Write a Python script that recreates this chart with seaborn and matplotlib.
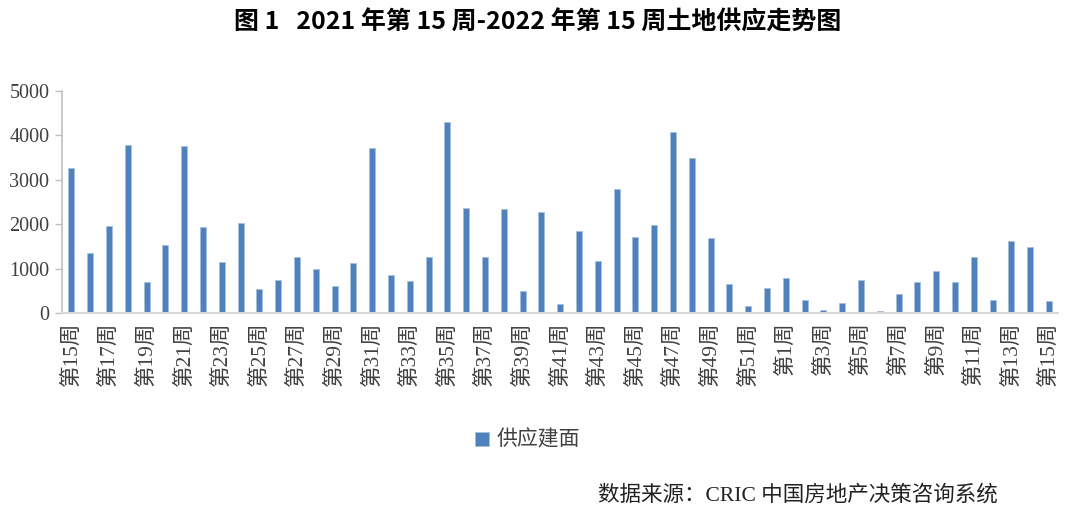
import numpy as np
import pandas as pd
import matplotlib
matplotlib.use("Agg")
import matplotlib.pyplot as plt
import seaborn as sns

# --------------------------------------------------
# Data
# --------------------------------------------------
years = [2021] * 38 + [2022] * 15
week_numbers = [15, 16, 17, 18, 19, 20, 21, 22, 23, 24, 25, 26, 27, 28, 29, 30,
                31, 32, 33, 34, 35, 36, 37, 38, 39, 40, 41, 42, 43, 44, 45, 46,
                47, 48, 49, 50, 51, 52,
                1, 2, 3, 4, 5, 6, 7, 8, 9, 10, 11, 12, 13, 14, 15]
supply_area = [3260, 1350, 1960, 3780, 700, 1540, 3770, 1930, 1140, 2020,
               540, 740, 1260, 990, 600, 1130,
               3710, 850, 715, 1255, 4310, 2375, 1255, 2340, 490, 2265,
               190, 1850, 1180, 2790, 1720, 1985, 4075, 3495,
               1685, 655, 165, 565,
               790, 300, 75, 225, 740, 45, 430, 700, 955, 700,
               1255, 300, 1625, 1480, 280]

TITLE = "图 1   2021 年第 15 周-2022 年第 15 周土地供应走势图"
SERIES_NAME = "供应建面"
SOURCE = "数据来源：CRIC 中国房地产决策咨询系统"

BAR_COLOR = "#4F81BD"
TEXT_COLOR = "#404040"

df = pd.DataFrame({
    "key": [f"{y}-{w}" for y, w in zip(years, week_numbers)],
    "label": [f"第{w}周" for w in week_numbers],
    SERIES_NAME: supply_area,
})

# --------------------------------------------------
# Plot
# --------------------------------------------------
sns.set_theme(style="white")
plt.rcParams["font.family"] = ["Liberation Serif", "Noto Sans CJK SC", "DejaVu Sans"]

fig = plt.figure(figsize=(10.8, 5.13), dpi=100)
ax = fig.add_axes([0.0574, 0.390, 0.9226, 0.4326])

sns.barplot(
    data=df,
    x="key",
    y=SERIES_NAME,
    color=BAR_COLOR,
    width=0.32,
    edgecolor="#A7BFDE",
    linewidth=0.6,
    saturation=1,
    ax=ax,
    label=SERIES_NAME,
)

ax.set_ylim(0, 5000)
ax.set_yticks([0, 1000, 2000, 3000, 4000, 5000])
ax.tick_params(axis="y", labelsize=14.5, labelcolor=TEXT_COLOR,
               length=5, width=1, color="#BFBFBF", left=True, pad=4)

positions = list(range(0, len(df), 2))
ax.set_xticks(positions)
ax.set_xticklabels([df["label"][i] for i in positions], rotation=90,
                   fontsize=15.5, color=TEXT_COLOR)
ax.tick_params(axis="x", length=0, pad=6)
ax.set_xlabel("")
ax.set_ylabel("")

for side in ["top", "right"]:
    ax.spines[side].set_visible(False)
ax.spines["left"].set_color("#BFBFBF")
ax.spines["bottom"].set_color("#D9D9D9")
ax.spines["left"].set_linewidth(1.2)
ax.spines["bottom"].set_linewidth(1.5)

leg = ax.legend(
    loc="center",
    bbox_to_anchor=(0.4885, 0.1425),
    bbox_transform=fig.transFigure,
    frameon=False,
    fontsize=15,
    handlelength=0.65,
    handleheight=0.65,
    handletextpad=0.35,
)
for t in leg.get_texts():
    t.set_color(TEXT_COLOR)
    t.set_family(["Noto Sans CJK SC"])

fig.text(0.498, 0.955, TITLE, ha="center", va="center", fontsize=18,
         fontweight="bold", color="black",
         family=["Noto Sans CJK SC", "DejaVu Sans"])
fig.text(0.739, 0.035, SOURCE, ha="center", va="center", fontsize=15.5,
         color="#222222")

fig.savefig("out.png", dpi=100, facecolor="white")
